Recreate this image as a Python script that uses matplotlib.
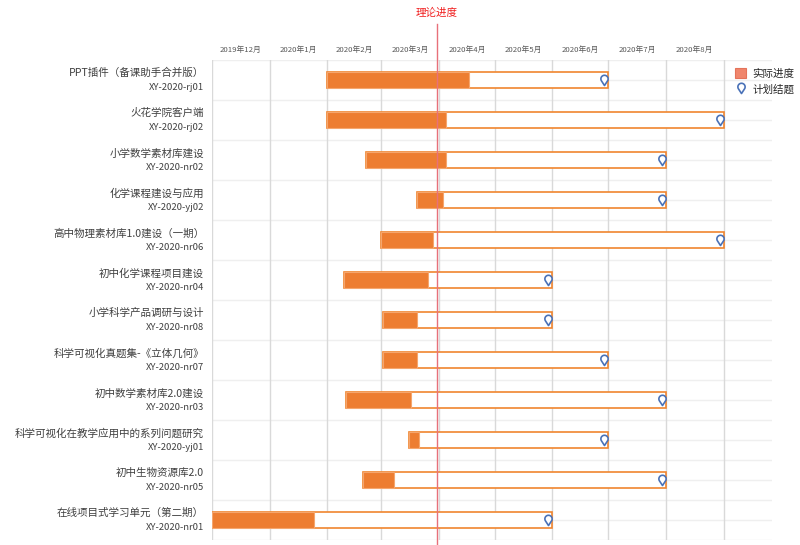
import matplotlib
matplotlib.use("Agg")
import matplotlib.pyplot as plt
import matplotlib.dates as mdates
from matplotlib.path import Path
from matplotlib.patches import Patch
from matplotlib.lines import Line2D
from matplotlib.transforms import ScaledTranslation
import numpy as np
import datetime as dt

plt.rcParams['font.family'] = ['Noto Sans CJK SC', 'DejaVu Sans']

names = ["PPT插件（备课助手合并版）", "火花学院客户端", "小学数学素材库建设", "化学课程建设与应用",
         "高中物理素材库1.0建设（一期）", "初中化学课程项目建设", "小学科学产品调研与设计",
         "科学可视化真题集-《立体几何》", "初中数学素材库2.0建设", "科学可视化在教学应用中的系列问题研究",
         "初中生物资源库2.0", "在线项目式学习单元（第二期）"]
codes = ["XY-2020-rj01", "XY-2020-rj02", "XY-2020-nr02", "XY-2020-yj02", "XY-2020-nr06",
         "XY-2020-nr04", "XY-2020-nr08", "XY-2020-nr07", "XY-2020-nr03", "XY-2020-yj01",
         "XY-2020-nr05", "XY-2020-nr01"]
start_dates = ["2020-02-01", "2020-02-01", "2020-02-22", "2020-03-20", "2020-03-01", "2020-02-10",
               "2020-03-02", "2020-03-02", "2020-02-11", "2020-03-16", "2020-02-20", "2019-12-01"]
actual_end = ["2020-04-16", "2020-04-04", "2020-04-04", "2020-04-02", "2020-03-28", "2020-03-25",
              "2020-03-19", "2020-03-19", "2020-03-16", "2020-03-20", "2020-03-07", "2020-01-24"]
plan_end = ["2020-06-30", "2020-08-31", "2020-07-31", "2020-07-31", "2020-08-31", "2020-05-31",
            "2020-05-31", "2020-06-30", "2020-07-31", "2020-06-30", "2020-07-31", "2020-05-31"]
theory_date = "2020-03-31"
month_starts = ["2019-12-01", "2020-01-01", "2020-02-01", "2020-03-01", "2020-04-01", "2020-05-01",
                "2020-06-01", "2020-07-01", "2020-08-01", "2020-09-01"]
month_labels = ["2019年12月", "2020年1月", "2020年2月", "2020年3月", "2020年4月", "2020年5月",
                "2020年6月", "2020年7月", "2020年8月"]
x_min, x_max = "2019-12-01", "2020-09-27"


def d(s):
    return mdates.date2num(dt.datetime.strptime(s, "%Y-%m-%d"))


s = np.array([d(v) for v in start_dates])
a = np.array([d(v) for v in actual_end]) + 1
p = np.array([d(v) for v in plan_end]) + 1
ms = np.array([d(v) for v in month_starts])
y = np.arange(len(names))

fig = plt.figure(figsize=(8, 5.45), dpi=100)
ax = fig.add_axes([212 / 800, 5 / 545, 560 / 800, 480 / 545])
ax.set_xlim(d(x_min), d(x_max))
ax.set_ylim(len(names) - 0.5, -0.5)

for sp in ax.spines.values():
    sp.set_visible(False)

# vertical month gridlines
for m in ms:
    ax.axvline(m, color='#D9D9D9', lw=1, zorder=0.5)
# horizontal row boundaries
for b in np.arange(-0.5, len(names) + 0.5, 1):
    ax.axhline(b, color='#EFEFEF', lw=1, zorder=0.4)
# center lines to the right of planned end
ax.hlines(y, p, d(x_max), color='#EFEFEF', lw=1, zorder=0.4)

# planned (outline) bars
ax.barh(y, p - s, left=s, height=0.4, color='white', edgecolor='#F0852F', lw=1.2, zorder=2)
# actual bars
ax.barh(y, a - s, left=s, height=0.4, color='#ED7D31', edgecolor='#F5A66E', lw=0.8, zorder=3)

# pin marker
ang = np.deg2rad(np.linspace(-35, 215, 40))
cx, cy, r = 0.0, 0.3, 0.68
verts = [(cx + r * np.cos(t), cy + r * np.sin(t)) for t in ang]
verts.append((0.0, -0.95))
verts.append(verts[0])
codes_p = [Path.MOVETO] + [Path.LINETO] * (len(verts) - 2) + [Path.CLOSEPOLY]
pin = Path(verts, codes_p)
off = ScaledTranslation(-4 / 100, 0, fig.dpi_scale_trans)
ax.plot(p, y, linestyle='none', marker=pin, markersize=7.5, markerfacecolor='white',
        markeredgecolor='#4A72B8', markeredgewidth=1.2, zorder=4, transform=ax.transData + off)

# axis ticks
ax.set_yticks([])
ax.xaxis.set_ticks_position('top')
ax.set_xticks(ms)
ax.set_xticklabels([])
mids = (ms[:-1] + ms[1:]) / 2
ax.set_xticks(mids, minor=True)
ax.set_xticklabels(month_labels, minor=True, fontsize=5.6, color='#595959')
ax.tick_params(axis='x', which='both', length=0, pad=4)

# row labels
trans = ax.get_yaxis_transform()
for i, (n, c) in enumerate(zip(names, codes)):
    ax.text(-8 / 560, i - 0.17, n, transform=trans, ha='right', va='center', fontsize=7.6, color='#404040')
    ax.text(-8 / 560, i + 0.19, c, transform=trans, ha='right', va='center', fontsize=6.8, color='#404040')

# theory line
td = d(theory_date)
xt = ax.get_xaxis_transform()
ax.plot([td, td], [-0.012, (540 - 24) / 480 - 0.0], color='#E8707A', lw=1, transform=xt,
        clip_on=False, zorder=5)
ax.text(td, (540 - 13) / 480, "理论进度", transform=xt, ha='center', va='center',
        fontsize=7.6, color='#F01E1E')

handles = [Patch(facecolor='#F0866C', edgecolor='#E4735A', lw=0.8),
           Line2D([], [], linestyle='none', marker=pin, markersize=7.5, markerfacecolor='white',
                  markeredgecolor='#4A72B8', markeredgewidth=1.2)]
leg = fig.legend(handles, ["实际进度", "计划结题"], loc='upper left', bbox_to_anchor=(728 / 800, 1 - 61 / 545),
                 frameon=False, fontsize=7.6, handlelength=1.0, handleheight=1.0, handletextpad=0.6,
                 labelspacing=0.5, borderpad=0.2)
for t in leg.get_texts():
    t.set_color('#262626')

fig.savefig("out.png", dpi=100)
